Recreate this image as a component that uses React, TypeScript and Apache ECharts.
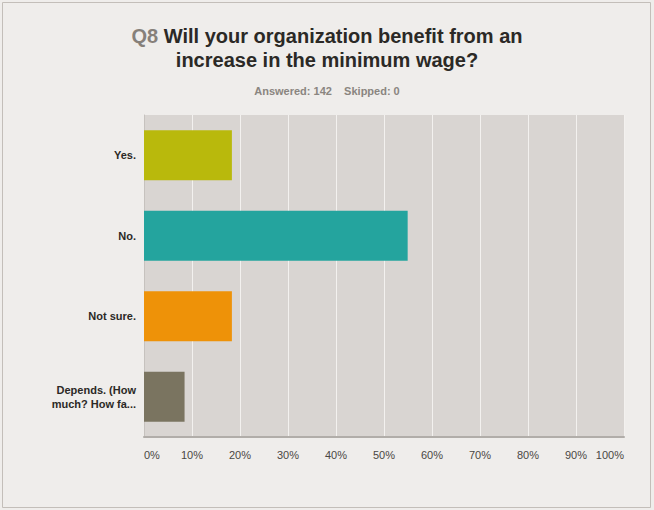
import React, { useEffect, useRef } from "react";
import * as echarts from "echarts";

const categories = ["Yes.", "No.", "Not sure.", "Depends. (How\nmuch? How fa..."];
const percentages = [18.31, 54.93, 18.31, 8.45];
const barColors = ["#b9b90c", "#24a49e", "#ee9208", "#7a7460"];
const questionLabel = "Q8";
const titleLines = ["Will your organization benefit from an", "increase in the minimum wage?"];
const answered = 142;
const skipped = 0;

export default function App() {
  const ref = useRef<HTMLDivElement>(null);
  useEffect(() => {
    const chart = echarts.init(ref.current!, null, { renderer: "svg" });
    chart.setOption({
      animation: false,
      backgroundColor: "#efedeb",
      title: [
        {
          text: `{q|${questionLabel}} ${titleLines[0]}\n${titleLines[1]}`,
          left: "center",
          top: 19,
          textStyle: {
            fontFamily: "Liberation Sans",
            fontSize: 20,
            fontWeight: "bold",
            color: "#2b2926",
            lineHeight: 24,
            rich: {
              q: {
                fontFamily: "Liberation Sans",
                fontSize: 20,
                fontWeight: "bold",
                color: "#86807a",
                lineHeight: 24,
              },
            },
          },
        },
        {
          text: `Answered: ${answered}    Skipped: ${skipped}`,
          left: "center",
          top: 80,
          textStyle: {
            fontFamily: "Liberation Sans",
            fontSize: 11,
            fontWeight: "bold",
            color: "#8a8580",
          },
        },
      ],
      graphic: [
        {
          type: "rect",
          shape: { x: 2.5, y: 2.5, width: 648, height: 505 },
          style: { fill: "none", stroke: "#c3beb9", lineWidth: 1 },
          silent: true,
        },
      ],
      grid: {
        left: 144,
        right: 30,
        top: 115,
        bottom: 73,
        show: true,
        backgroundColor: "#d9d5d2",
        borderWidth: 0,
      },
      xAxis: {
        type: "value",
        min: 0,
        max: 100,
        interval: 10,
        axisLine: { show: true, lineStyle: { color: "#b1ada9", width: 2 } },
        axisTick: { show: false },
        splitLine: { show: true, lineStyle: { color: "#f3f1ef", width: 1 } },
        axisLabel: {
          formatter: "{value}%",
          color: "#4a4744",
          fontFamily: "Liberation Sans",
          fontSize: 11,
          margin: 12,
          alignMinLabel: "left",
          alignMaxLabel: "right",
        },
      },
      yAxis: {
        type: "category",
        data: categories,
        inverse: true,
        axisLine: { show: true, lineStyle: { color: "#c6c2be", width: 1 } },
        axisTick: { show: false },
        axisLabel: {
          color: "#2b2926",
          fontFamily: "Liberation Sans",
          fontSize: 11,
          fontWeight: "bold",
          margin: 8,
          lineHeight: 14,
          align: "right",
        },
      },
      series: [
        {
          type: "bar",
          data: percentages.map((v, i) => ({ value: v, itemStyle: { color: barColors[i] } })),
          barCategoryGap: "38%",
        },
      ],
    });
    return () => chart.dispose();
  }, []);
  return (
    <div
      ref={ref}
      style={{ position: "fixed", left: 0, top: 0, width: 654, height: 510 }}
    />
  );
}
